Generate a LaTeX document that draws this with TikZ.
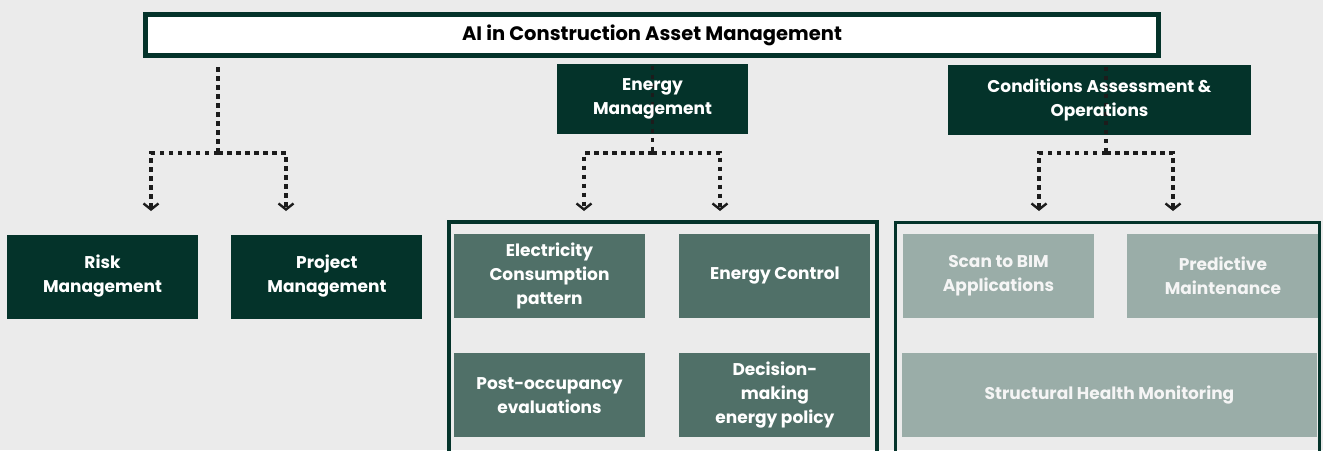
\documentclass[tikz,border=0pt]{standalone}
\usepackage{fontspec}
\setmainfont{Poppins}
\usetikzlibrary{arrows.meta, positioning}

\definecolor{darkgreen}{HTML}{04332A}
\definecolor{midgreen}{HTML}{507068}
\definecolor{palegreen}{HTML}{9AADA8}
\definecolor{canvas}{HTML}{EBEBEB}
\definecolor{dotgray}{HTML}{1C1C1C}

\begin{document}
\begin{tikzpicture}[x=1pt, y=-1pt,
        every node/.style={font=\bfseries\fontsize{17}{24}\selectfont, align=center, inner sep=0pt},
        titlebox/.style={draw=darkgreen, line width=5pt, fill=white, minimum width=1013pt, minimum height=41pt, font=\bfseries\fontsize{19.5}{24}\selectfont},
        headbox/.style={fill=darkgreen, minimum height=70pt},
        headtext/.style={text=white},
        darkbox/.style={fill=darkgreen, text=white, minimum width=191pt, minimum height=84pt},
        midbox/.style={fill=midgreen, text=white, minimum width=191pt, minimum height=84pt},
        palebox/.style={fill=palegreen, text=white!96!black, minimum width=191pt, minimum height=84pt},
        frame/.style={draw=darkgreen, line width=4pt},
        dotline/.style={draw=dotgray, line width=3.2pt, dash pattern=on 4.5pt off 4.5pt},
        tip/.style={-{Straight Barb[length=6pt, width=15pt, line width=2.4pt]}}
    ]
        \fill[canvas] (0,0) rectangle (1323,450);
        \useasboundingbox (0,0) rectangle (1323,450);

        % Tiêu đề
        \node[titlebox] (title) at (652,35) {AI in Construction Asset Management};

        % Hộp cấp hai
        \node[headbox, minimum width=191pt] (energy) at (652.5,99) {};
        \node[headbox, minimum width=303pt] (cond) at (1099.5,100) {};

        % Nhóm bên trái
        \node[darkbox] (risk) at (102.5,276.5) {Risk\\Management};
        \node[darkbox, right=33pt of risk] (project) {Project\\Management};

        % Khung hai nhóm
        \draw[frame] (448.5,221.5) rectangle (877,460);
        \draw[frame, line width=3pt] (895.5,222) rectangle (1319,460);

        % Nhóm năng lượng
        \node[midbox] (elec) at (549.5,276) {Electricity\\Consumption\\pattern};
        \node[midbox, right=34pt of elec] (ectrl) {Energy Control};
        \node[midbox, below=35pt of elec] (post) {Post-occupancy\\evaluations};
        \node[midbox, below=35pt of ectrl] (policy) {Decision-\\making\\energy policy};

        % Nhóm đánh giá và vận hành
        \node[palebox] (scan) at (998.5,276) {Scan to BIM\\Applications};
        \node[palebox, right=33pt of scan] (predict) {Predictive\\Maintenance};
        \node[palebox, minimum width=415pt] (health) at (1109.5,395) {Structural Health Monitoring};

        % Điểm rẽ nhánh
        \coordinate (lfork) at (218,153);
        \coordinate (riskin) at (151,211);
        \coordinate (projin) at (286,211);
        \coordinate (efork) at (652.5,153);
        \coordinate (elecin) at (584,211);
        \coordinate (ectrlin) at (720,211);
        \coordinate (cfork) at (1106,153);
        \coordinate (scanin) at (1039,211);
        \coordinate (predin) at (1173,211);

        \draw[dotline] ([yshift=-9pt]title.south -| lfork) -- (lfork);
        \draw[dotline, tip] (lfork) -| (riskin);
        \draw[dotline, tip] (lfork) -| (projin);

        \draw[dotline] ([yshift=-2pt]energy.north) -- (efork);
        \draw[dotline, tip] (efork) -| (elecin);
        \draw[dotline, tip] (efork) -| (ectrlin);

        \draw[dotline] ([yshift=-2pt]cond.north -| cfork) -- (cfork);
        \draw[dotline, tip] (cfork) -| (scanin);
        \draw[dotline, tip] (cfork) -| (predin);

        % Chữ đè lên đường chấm
        \node[headtext] (energytext) at (energy) {Energy\\Management};
        \node[headtext] (condtext) at (cond) {Conditions Assessment \&\\Operations};
    \end{tikzpicture}
\end{document}
